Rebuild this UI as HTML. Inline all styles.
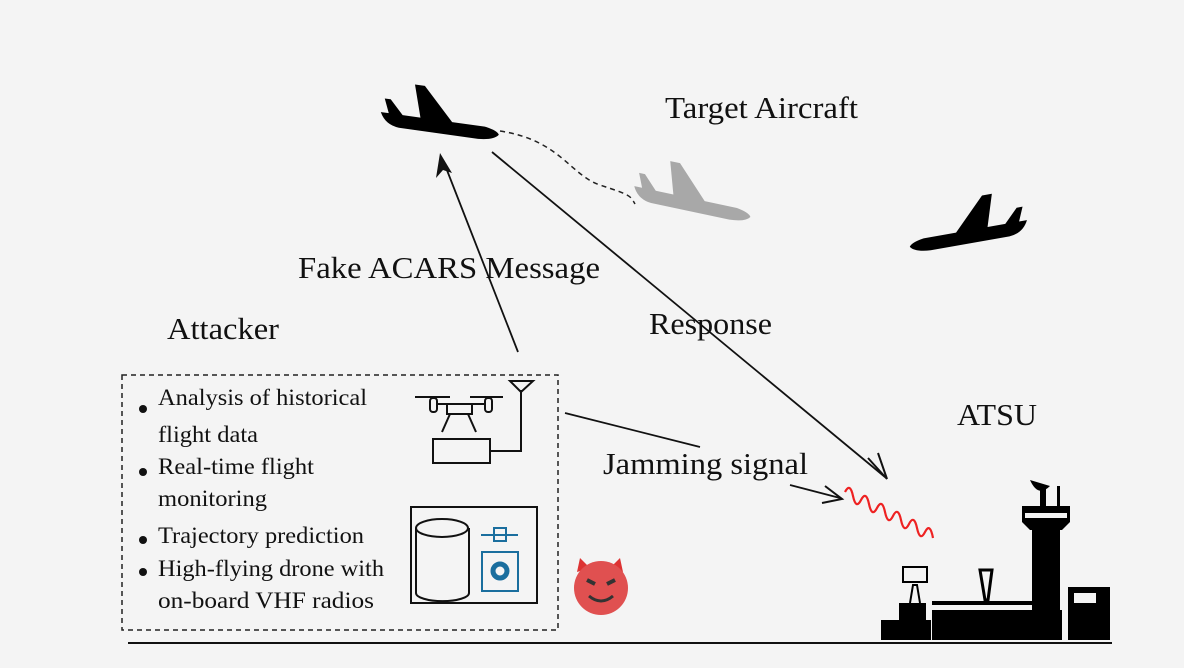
<!DOCTYPE html>
<html><head><meta charset="utf-8"><style>
body{margin:0;background:#f4f4f4;}
svg{display:block}
text{font-family:"Liberation Serif",serif;fill:#111}
</style></head><body>
<svg width="1184" height="668" viewBox="0 0 1184 668">
<rect width="1184" height="668" fill="#f4f4f4"/>
<defs>
<g id="pl">
<path d="M0,-6 L8,-6 L2,-20 L8,-20 L22,-6 L40,-6 L30,-38 L40,-38 L72,-6 L105,-6 Q118,-4 120,0 Q116,6 100,7 L20,7 Q6,6 0,-6 Z"/>
</g>
</defs>
<!-- planes -->
<g transform="translate(380,118) rotate(8)" fill="#000"><use href="#pl"/></g>
<g transform="translate(633,192) rotate(12)" fill="#a8a8a8"><use href="#pl"/></g>
<g transform="translate(1028,226) scale(-1,1) rotate(10)" fill="#000"><use href="#pl"/></g>
<path d="M500,131 C560,140 570,175 600,185 S630,195 635,204" fill="none" stroke="#222" stroke-width="1.5" stroke-dasharray="5,4"/>
<text x="665" y="118" font-size="31" textLength="193" lengthAdjust="spacingAndGlyphs">Target Aircraft</text>
<!-- Fake ACARS arrow -->
<line x1="518" y1="352" x2="443" y2="160" stroke="#111" stroke-width="1.8"/>
<path d="M440,153 L436,178 L443,170 L452,173 Z" fill="#111"/>
<text x="298" y="278" font-size="31" textLength="302" lengthAdjust="spacingAndGlyphs">Fake ACARS Message</text>
<!-- Response -->
<line x1="492" y1="152" x2="885" y2="477" stroke="#111" stroke-width="1.8"/>
<path d="M868,458 L887,479 L878,453" fill="none" stroke="#111" stroke-width="2"/>
<text x="649" y="334" font-size="31" textLength="123" lengthAdjust="spacingAndGlyphs">Response</text>
<!-- jamming -->
<line x1="565" y1="413" x2="700" y2="447" stroke="#111" stroke-width="1.8"/>
<text x="603" y="474" font-size="31" textLength="205" lengthAdjust="spacingAndGlyphs">Jamming signal</text>
<line x1="790" y1="485" x2="840" y2="498" stroke="#111" stroke-width="1.8"/>
<path d="M825,486 L842,499 L822,503" fill="none" stroke="#111" stroke-width="2"/>
<path d="M845,492 q5,-10 8,4 t8,4 q5,-10 8,4 t8,4 q5,-10 8,4 t8,4 q5,-10 8,4 t8,4 q5,-10 8,4 t8,4 q5,-10 8,6" fill="none" stroke="#e22" stroke-width="2.2"/>
<text x="957" y="425" font-size="31" textLength="80" lengthAdjust="spacingAndGlyphs">ATSU</text>
<text x="167" y="339" font-size="31" textLength="112" lengthAdjust="spacingAndGlyphs">Attacker</text>
<!-- dashed box -->
<rect x="122" y="375" width="436" height="255" fill="none" stroke="#222" stroke-width="1.5" stroke-dasharray="5,4"/>
<g font-size="23">
<circle cx="143" cy="409" r="4" fill="#111"/><text x="158" y="405" textLength="209" lengthAdjust="spacingAndGlyphs">Analysis of historical</text><text x="158" y="442" textLength="100" lengthAdjust="spacingAndGlyphs">flight data</text>
<circle cx="143" cy="472" r="4" fill="#111"/><text x="158" y="474" textLength="156" lengthAdjust="spacingAndGlyphs">Real-time flight</text><text x="158" y="506" textLength="109" lengthAdjust="spacingAndGlyphs">monitoring</text>
<circle cx="143" cy="540" r="4" fill="#111"/><text x="158" y="543" textLength="206" lengthAdjust="spacingAndGlyphs">Trajectory prediction</text>
<circle cx="143" cy="572" r="4" fill="#111"/><text x="158" y="576" textLength="226" lengthAdjust="spacingAndGlyphs">High-flying drone with</text><text x="158" y="608" textLength="216" lengthAdjust="spacingAndGlyphs">on-board  VHF radios</text>
</g>
<!-- drone -->
<g stroke="#111" stroke-width="2" fill="none">
<line x1="415" y1="397" x2="450" y2="397"/><line x1="470" y1="397" x2="503" y2="397"/>
<rect x="430" y="398" width="7" height="14" rx="3"/><rect x="485" y="398" width="7" height="14" rx="3"/>
<path d="M437,404 L485,404 M447,404 v10 h25 v-10"/>
<path d="M450,414 L442,432 M468,414 L476,432"/>
<rect x="433" y="439" width="57" height="24"/>
<path d="M490,451 L521,451 L521,390"/>
<path d="M510,381 L533,381 L521,392 Z"/>
<rect x="411" y="507" width="126" height="96"/>
<path d="M416,528 v65 a26,8 0 0 0 53,0 v-65"/>
<ellipse cx="442" cy="528" rx="26" ry="9"/>
</g>
<g stroke="#1a6e9e" fill="none" stroke-width="2">
<line x1="481" y1="535" x2="518" y2="535"/><rect x="494" y="528" width="12" height="13"/>
<rect x="482" y="552" width="36" height="39"/>
<circle cx="500" cy="571" r="7" stroke-width="5"/>
</g>
<!-- devil -->
<path d="M577,572 L580,558 L590,568 Z M623,572 L620,558 L610,568 Z" fill="#d33"/>
<circle cx="601" cy="588" r="27" fill="#e05050"/>
<path d="M587,580 l8,4 M615,580 l-8,4" stroke="#333" stroke-width="4"/>
<path d="M589,596 q12,10 24,0" fill="none" stroke="#333" stroke-width="3"/>
<!-- ATSU -->
<g fill="#000">
<rect x="881" y="620" width="50" height="20"/>
<rect x="899" y="603" width="27" height="20"/>
<path d="M910,603 L913,585 L917,585 L920,603" fill="none" stroke="#000" stroke-width="2"/>
<rect x="903" y="567" width="24" height="15" fill="none" stroke="#000" stroke-width="2"/>
<rect x="932" y="610" width="130" height="30"/>
<rect x="932" y="601" width="100" height="4"/>
<rect x="1032" y="520" width="28" height="120"/>
<path d="M1022,506 L1070,506 L1070,522 L1062,530 L1030,530 L1022,522 Z"/>
<rect x="1025" y="513" width="42" height="5" fill="#f4f4f4"/>
<path d="M1030,480 q8,18 20,6 Z"/><rect x="1040" y="488" width="6" height="18"/><rect x="1057" y="486" width="3" height="20"/>
<rect x="1068" y="587" width="42" height="53"/>
<rect x="1074" y="593" width="22" height="10" fill="#f4f4f4"/>
<path d="M985,600 L980,570 L992,570 L988,600 Z" fill="none" stroke="#000" stroke-width="3"/>
</g>
<line x1="128" y1="643" x2="1112" y2="643" stroke="#111" stroke-width="2"/>
</svg>
</body></html>
